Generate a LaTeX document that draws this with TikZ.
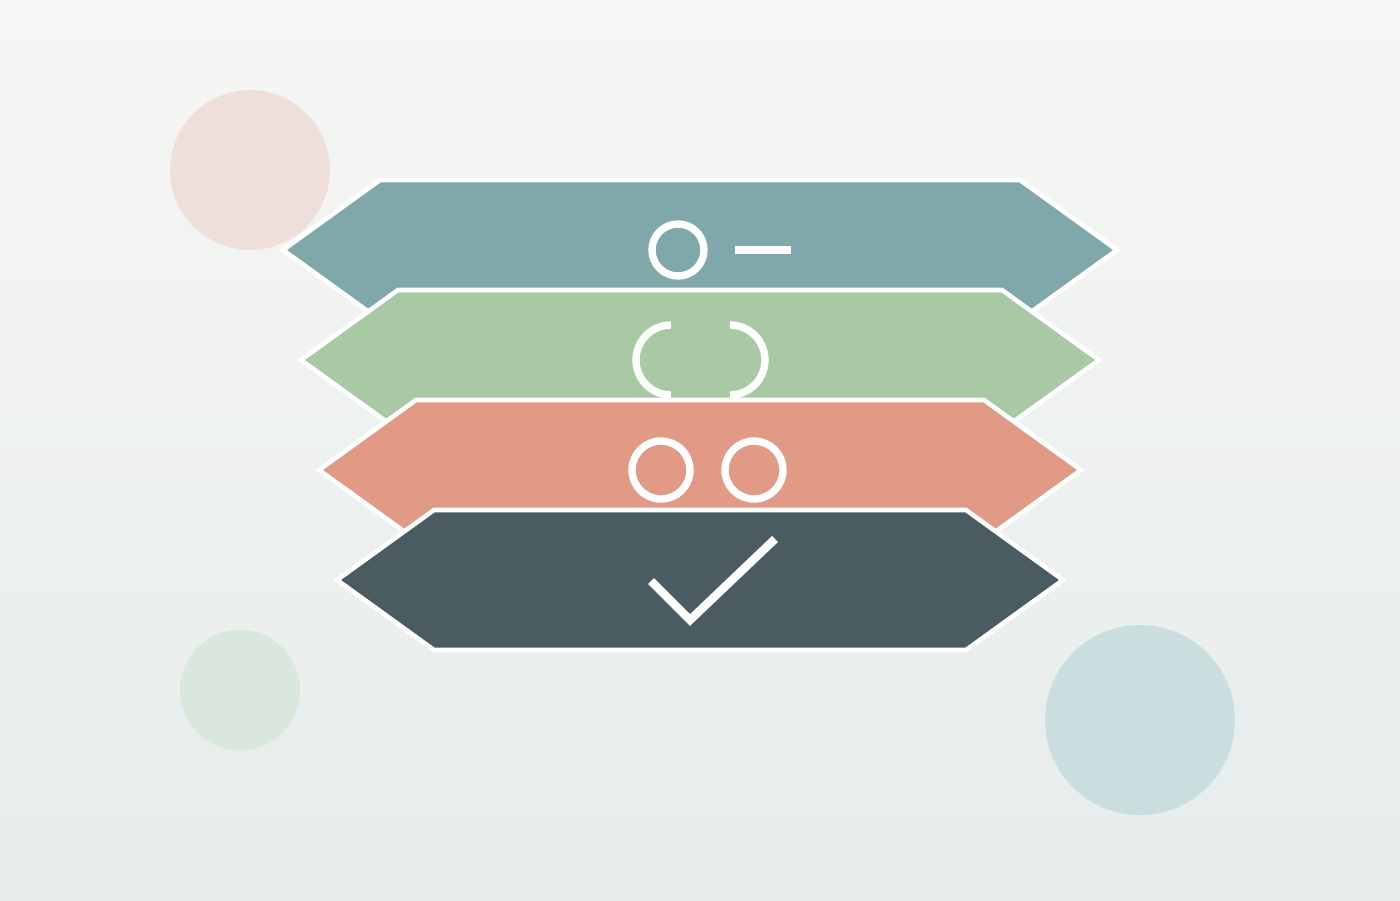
\documentclass[tikz,border=0pt]{standalone}
\usepackage{tikz}
\usetikzlibrary{positioning}
\tikzstyle{canvas} = [x = 0.02cm, y = -0.02cm]
\definecolor{bgTop}{RGB}{246,247,244}
\definecolor{bgBottom}{RGB}{230,236,236}
\definecolor{dotPink}{RGB}{239,223,219}
\definecolor{dotGreen}{RGB}{217,231,220}
\definecolor{dotBlue}{RGB}{203,222,223}
\definecolor{bandTeal}{RGB}{128,167,170}
\definecolor{bandGreen}{RGB}{169,201,164}
\definecolor{bandSalmon}{RGB}{224,154,134}
\definecolor{bandSlate}{RGB}{75,91,98}
\tikzstyle{bandStyle} = [draw=white, line width = 2.6pt, line join = miter]
\tikzstyle{iconLine} = [draw=white, line width = 4.2pt]
\newcommand{\bgDot}[4]{\fill [#4] (#1, #2) circle (#3);}
\newcommand{\band}[3]{\filldraw [bandStyle, fill=#3] (700 - #2 - 97, #1) -- (700 - #2, #1 - 70) -- (700 + #2, #1 - 70) -- (700 + #2 + 97, #1) -- (700 + #2, #1 + 70) -- (700 - #2, #1 + 70) -- cycle;}
\newcommand{\ring}[2]{\draw [iconLine] (#1, #2) circle (29);}

\begin{document}
\begin{tikzpicture}[canvas]
            \useasboundingbox (0,0) rectangle (1400,900);
            \shade [top color=bgTop, bottom color=bgBottom] (0,0) rectangle (1400,900);
            \bgDot{250}{170}{80}{dotPink}
            \bgDot{240}{690}{60}{dotGreen}
            \bgDot{1140}{720}{95}{dotBlue}

            \band{250}{320}{bandTeal}
            \band{360}{302}{bandGreen}
            \band{470}{284}{bandSalmon}
            \band{580}{266}{bandSlate}

            \draw [iconLine] (678,250) circle (26);
            \draw [iconLine] (735,250) -- (791,250);
            \draw [iconLine] (671,325) arc (270:90:35);
            \draw [iconLine] (730,325) arc (-90:90:35);
            \ring{661}{470}
            \ring{754}{470}
            \draw [iconLine, line width = 4.8pt] (651,581) -- (690,620) -- (775,539);
          \end{tikzpicture}
\end{document}
